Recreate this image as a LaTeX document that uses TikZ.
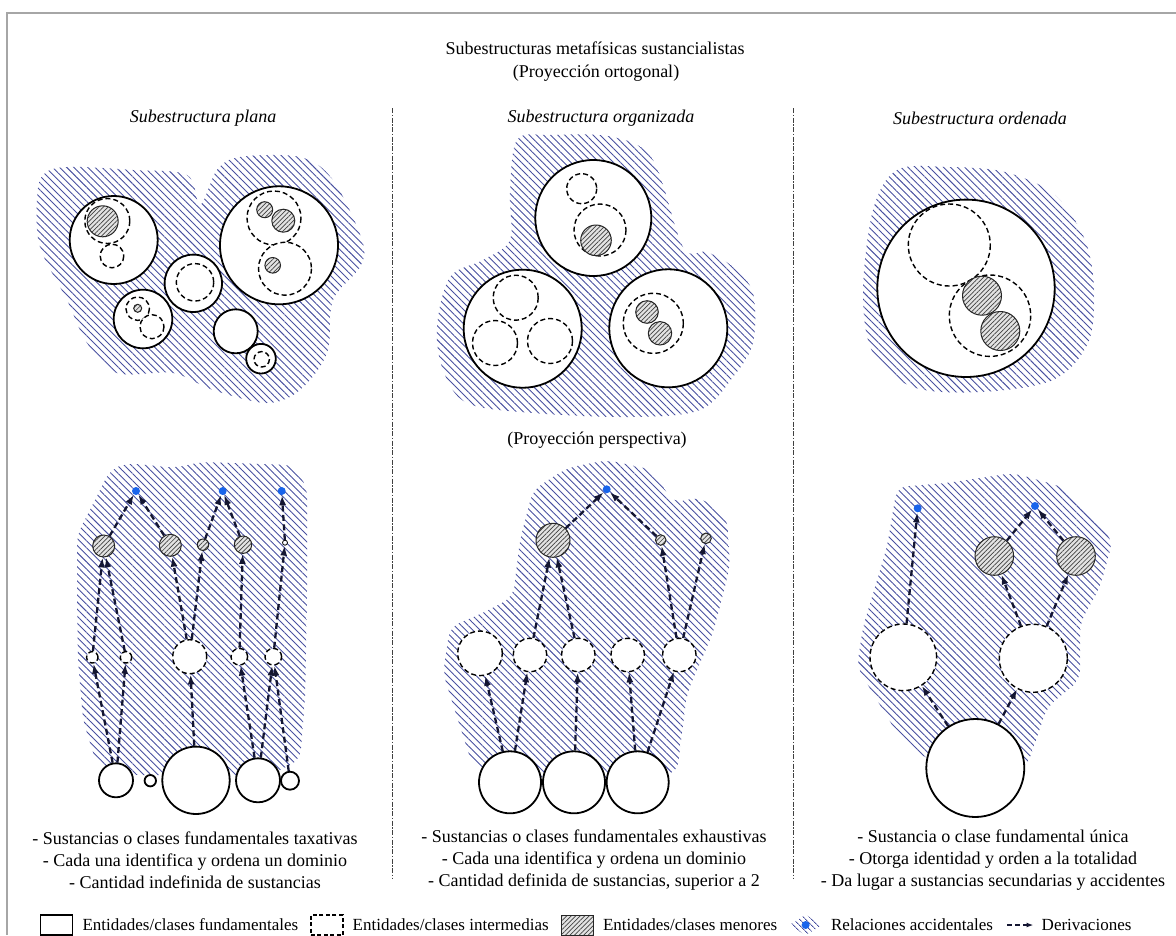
\documentclass[tikz,border=0pt]{standalone}
\usepackage{fontspec}
\setmainfont{Liberation Serif}
\usetikzlibrary{patterns.meta,arrows.meta,positioning}
\definecolor{hatchblue}{RGB}{72,80,160}
\definecolor{dotblue}{RGB}{25,100,235}
\definecolor{arrowcol}{RGB}{20,22,50}
\tikzset{
 fundc/.style={circle,draw=black,line width=1.8pt,fill=white,inner sep=0pt,minimum size=#1},
 interc/.style={circle,draw=black,line width=1.4pt,dash pattern=on 5pt off 3pt,fill=white,inner sep=0pt,minimum size=#1},
 menorc/.style={circle,draw=black!85,line width=1pt,inner sep=0pt,minimum size=#1,preaction={fill=gray!22},pattern={Lines[angle=45,distance=3.2pt,line width=0.7pt]},pattern color=black!75},
 tinyc/.style={circle,draw=black,line width=0.8pt,fill=white,inner sep=0pt,minimum size=#1},
 bluedot/.style={circle,fill=dotblue,inner sep=0pt,minimum size=8pt},
 deriv/.style={draw=arrowcol,line width=2.3pt,dash pattern=on 6pt off 3.5pt,-{Latex[length=10pt,width=7pt]}},
 blob/.style={pattern={Lines[angle=-45,distance=5pt,line width=0.9pt]},pattern color=hatchblue},
 fundp/.style={draw=black,line width=1.8pt,fill=white},
 interp/.style={draw=black,line width=1.4pt,dash pattern=on 5pt off 3pt,fill=white},
 menorp/.style={draw=black!85,line width=1pt,preaction={fill=gray!22},pattern={Lines[angle=45,distance=3.2pt,line width=0.7pt]},pattern color=black!75},
 sepline/.style={draw=black!75,line width=0.8pt,dash pattern=on 5pt off 1.5pt on 1.5pt off 1.5pt},
 txt/.style={font=\fontsize{18}{22}\selectfont,inner sep=0pt},
 legtxt/.style={font=\fontsize{17}{20}\selectfont,inner sep=0pt},
 legbox/.style={rectangle,minimum width=32pt,minimum height=20pt,inner sep=0pt},
}
\begin{document}
\begin{tikzpicture}[x=1pt,y=-1pt]
\useasboundingbox (0,0) rectangle (1176,935);
% frame
\draw[gray!70,line width=2pt] (7,935) -- (7,13) -- (1176,13);
% separators
\draw[sepline] (392,108) -- (392,878);
\draw[sepline] (793,108) -- (793,878);
% titles
\node[txt] (title) at (595,48) {Subestructuras metafísicas sustancialistas};
\node[txt] (orto) at (596,73) {(Proyección ortogonal)};
\node[txt,font=\fontsize{18}{22}\selectfont\itshape] (t1) at (203,118) {Subestructura plana};
\node[txt,font=\fontsize{18}{22}\selectfont\itshape] (t2) at (601,118) {Subestructura organizada};
\node[txt,font=\fontsize{18}{22}\selectfont\itshape] (t3) at (980,118) {Subestructura ordenada};
\node[txt] (persp) at (597,440) {(Proyección perspectiva)};

% ===== top-left (plana) =====
\path[blob] plot[smooth cycle,tension=0.55] coordinates {(43,175) (67,167) (133,170) (187,175) (200,205) (217,170) (240,157) (300,157) (333,180) (362,240) (360,267) (333,300) (327,353) (300,390) (267,403) (213,390) (173,373) (117,373) (87,343) (67,300) (40,247) (37,200)};
\draw[fundp] (113.7,240) circle[radius=44];
\draw[interp] (107.3,221) circle[radius=22.5];
\draw[menorp] (102.7,221.3) circle[radius=15.5];
\draw[interp] (112,256) circle[radius=11.8];
\draw[fundp] (279,245.3) circle[radius=59];
\draw[interp] (274,218) circle[radius=27];
\draw[menorp] (264.7,209.7) circle[radius=8];
\draw[menorp] (283.3,220.7) circle[radius=11.5];
\draw[interp] (285,268.7) circle[radius=26.5];
\draw[menorp] (272.7,265.3) circle[radius=7.8];
\draw[fundp] (193.3,283.3) circle[radius=28.7];
\draw[interp] (195,282.3) circle[radius=18.7];
\draw[fundp] (143,319) circle[radius=29.3];
\draw[interp] (137.7,308.7) circle[radius=11.7];
\draw[menorp] (137.7,308.3) circle[radius=4];
\draw[interp] (152,326.7) circle[radius=12];
\draw[fundp] (235.7,331.3) circle[radius=22];
\draw[fundp] (261,358.7) circle[radius=14.8];
\draw[interp] (261.7,359.3) circle[radius=7.7];

% ===== top-middle (organizada) =====
\path[blob] plot[smooth cycle,tension=0.55] coordinates {(517,140) (550,135) (613,137) (653,160) (683,247) (707,252) (733,267) (753,293) (753,343) (733,377) (700,410) (633,417) (533,413) (467,403) (443,370) (437,327) (450,277) (483,260) (510,240) (510,193)};
\draw[fundp] (593.3,218) circle[radius=58];
\draw[interp] (581.7,188.7) circle[radius=15];
\draw[interp] (600,230) circle[radius=26];
\draw[menorp] (596,240.3) circle[radius=15.3];
\draw[fundp] (522.7,328.7) circle[radius=59];
\draw[interp] (515.7,297.7) circle[radius=22.5];
\draw[interp] (495,343) circle[radius=22.5];
\draw[interp] (550,341) circle[radius=22.5];
\draw[fundp] (668.3,328.3) circle[radius=59];
\draw[interp] (653.3,323.3) circle[radius=30];
\draw[menorp] (647,312) circle[radius=11.3];
\draw[menorp] (660,333.3) circle[radius=11.7];

% ===== top-right (ordenada) =====
\path[blob] plot[smooth cycle,tension=0.55] coordinates {(897,170) (947,167) (1005,172) (1055,195) (1085,240) (1094,290) (1088,343) (1053,380) (980,392) (913,387) (873,353) (863,293) (873,210)};
\draw[fundp] (966,288.3) circle[radius=88.7];
\draw[interp] (949.3,245) circle[radius=41];
\draw[interp] (990,315.7) circle[radius=40.7];
\draw[menorp] (982,295.7) circle[radius=19.5];
\draw[menorp] (1000.3,331) circle[radius=19.5];

% ===== bottom-left =====
\path[blob,rounded corners=10pt] (110,470) -- (127,463) -- (175,468) -- (200,462) -- (293,465) -- (307,487) -- (307,600) -- (305,700) -- (300,760) -- (270,775) -- (130,775) -- (97,765) -- (83,720) -- (78,660) -- (77,600) -- (77,535) -- (90,510) -- cycle;
\node[bluedot] (bA1) at (136,491) {};
\node[bluedot] (bA2) at (222.7,491) {};
\node[bluedot] (bA3) at (281.7,491) {};
\node[menorc=22pt] (hA1) at (103.7,546) {};
\node[menorc=22pt] (hA2) at (170.3,545.3) {};
\node[menorc=11.4pt] (hA3) at (203,544.7) {};
\node[menorc=17.4pt] (hA4) at (243,544.7) {};
\node[tinyc=5pt] (hA5) at (285,542.7) {};
\node[interc=11.4pt] (dA1) at (92.3,657.3) {};
\node[interc=11.4pt] (dA2) at (126,657.3) {};
\node[interc=34pt] (dA3) at (189.7,656.7) {};
\node[interc=16.6pt] (dA4) at (239.3,656.7) {};
\node[interc=16.6pt] (dA5) at (273.3,656.7) {};
\node[fundc=34pt] (sA1) at (116,780.3) {};
\node[fundc=11.4pt] (sA2) at (150.3,780.7) {};
\node[fundc=67.4pt] (sA3) at (196,780.3) {};
\node[fundc=44pt] (sA4) at (258,780.3) {};
\node[fundc=18pt] (sA5) at (290,780.7) {};
\draw[deriv] (sA1) -- (dA1);
\draw[deriv] (sA1) -- (dA2);
\draw[deriv] (dA1) -- (hA1);
\draw[deriv] (dA2) -- (hA1);
\draw[deriv] (hA1) -- (bA1);
\draw[deriv] (hA2) -- (bA1);
\draw[deriv] (sA3) -- (dA3);
\draw[deriv] (dA3) -- (hA2);
\draw[deriv] (dA3) -- (hA3);
\draw[deriv] (hA3) -- (bA2);
\draw[deriv] (hA4) -- (bA2);
\draw[deriv] (sA4) -- (dA4);
\draw[deriv] (sA4) -- (dA5);
\draw[deriv] (sA5) -- (dA5);
\draw[deriv] (dA4) -- (hA4);
\draw[deriv] (dA5) -- (hA5);
\draw[deriv] (hA5) -- (bA3);

% ===== bottom-middle =====
\path[blob,rounded corners=10pt] (533,490) -- (567,468) -- (607,460) -- (653,470) -- (673,503) -- (700,497) -- (727,517) -- (730,567) -- (713,633) -- (687,693) -- (677,773) -- (600,780) -- (510,775) -- (473,767) -- (443,673) -- (450,627) -- (483,613) -- (513,597) -- (520,540) -- cycle;
\node[bluedot] (bB) at (606.7,489.3) {};
\node[menorc=34pt] (hB1) at (553,540.3) {};
\node[menorc=10.6pt] (hB2) at (660.7,540) {};
\node[menorc=10.6pt] (hB3) at (706,538.3) {};
\node[interc=44.6pt] (dB1) at (480,653.3) {};
\node[interc=33.4pt] (dB2) at (530,655) {};
\node[interc=33.4pt] (dB3) at (578.3,655) {};
\node[interc=33.4pt] (dB4) at (627.7,655) {};
\node[interc=33.4pt] (dB5) at (679.3,655) {};
\node[fundc=62pt] (sB1) at (510,782.3) {};
\node[fundc=62pt] (sB2) at (574,782.3) {};
\node[fundc=62pt] (sB3) at (637.7,782.3) {};
\draw[deriv] (sB1) -- (dB1);
\draw[deriv] (sB1) -- (dB2);
\draw[deriv] (sB2) -- (dB3);
\draw[deriv] (sB3) -- (dB4);
\draw[deriv] (sB3) -- (dB5);
\draw[deriv] (dB2) -- (hB1);
\draw[deriv] (dB3) -- (hB1);
\draw[deriv] (dB5) -- (hB2);
\draw[deriv] (dB5) -- (hB3);
\draw[deriv] (hB1) -- (bB);
\draw[deriv] (hB2) -- (bB);

% ===== bottom-right =====
\path[blob,rounded corners=10pt] (897,487) -- (947,483) -- (1013,473) -- (1063,487) -- (1113,540) -- (1100,587) -- (1080,623) -- (1080,680) -- (1047,707) -- (1027,767) -- (927,760) -- (897,733) -- (857,667) -- (863,627) -- (887,547) -- cycle;
\node[bluedot] (bC1) at (917.7,508.3) {};
\node[bluedot] (bC2) at (1035,506) {};
\node[menorc=38.6pt] (hC1) at (994.3,556) {};
\node[menorc=38.6pt] (hC2) at (1076,556) {};
\node[interc=66.6pt] (dC1) at (903.3,657.3) {};
\node[interc=68pt] (dC2) at (1033.3,658.3) {};
\node[fundc=98pt] (sC) at (975.3,768) {};
\draw[deriv] (sC) -- (dC1);
\draw[deriv] (sC) -- (dC2);
\draw[deriv] (dC1) -- (bC1);
\draw[deriv] (dC2) -- (hC1);
\draw[deriv] (dC2) -- (hC2);
\draw[deriv] (hC1) -- (bC2);
\draw[deriv] (hC2) -- (bC2);

% ===== bottom texts =====
\node[txt,align=center] (c1) at (195,860) {- Sustancias o clases fundamentales taxativas\\- Cada una identifica y ordena un dominio\\- Cantidad indefinida de sustancias};
\node[txt,align=center] (c2) at (594,860) {- Sustancias o clases fundamentales exhaustivas\\- Cada una identifica y ordena un dominio\\- Cantidad definida de sustancias, superior a 2};
\node[txt,align=center] (c3) at (993,860) {- Sustancia o clase fundamental única\\- Otorga identidad y orden a la totalidad\\- Da lugar a sustancias secundarias y accidentes};

% ===== legend =====
\node[legbox,draw=black,line width=1.3pt,anchor=west] (k1) at (40,925) {};
\node[legtxt,right=9pt of k1] (l1) {Entidades/clases fundamentales};
\node[legbox,draw=black,line width=1.1pt,dash pattern=on 4pt off 2.5pt,right=12pt of l1] (k2) {};
\node[legtxt,right=9pt of k2] (l2) {Entidades/clases intermedias};
\node[legbox,draw=black!85,line width=1pt,preaction={fill=gray!22},pattern={Lines[angle=45,distance=3.2pt,line width=0.7pt]},pattern color=black!75,right=12pt of l2] (k3) {};
\node[legtxt,right=9pt of k3] (l3) {Entidades/clases menores};
\node[legbox,minimum width=32pt,right=12pt of l3] (k4) {};
\path[pattern={Lines[angle=-45,distance=4pt,line width=0.9pt]},pattern color=hatchblue] (k4.west) -- (k4.north) -- (k4.east) -- (k4.south) -- cycle;
\node[bluedot] (k4dot) at (k4.center) {};
\node[legtxt,right=9pt of k4] (l4) {Relaciones accidentales};
\node[legbox,minimum width=26pt,right=14pt of l4] (k5) {};
\draw[draw=arrowcol,line width=1.5pt,dash pattern=on 5pt off 3pt,-{Latex[length=7pt,width=5pt]}] (k5.west) -- (k5.east);
\node[legtxt,right=8pt of k5] (l5) {Derivaciones};
\end{tikzpicture}
\end{document}
